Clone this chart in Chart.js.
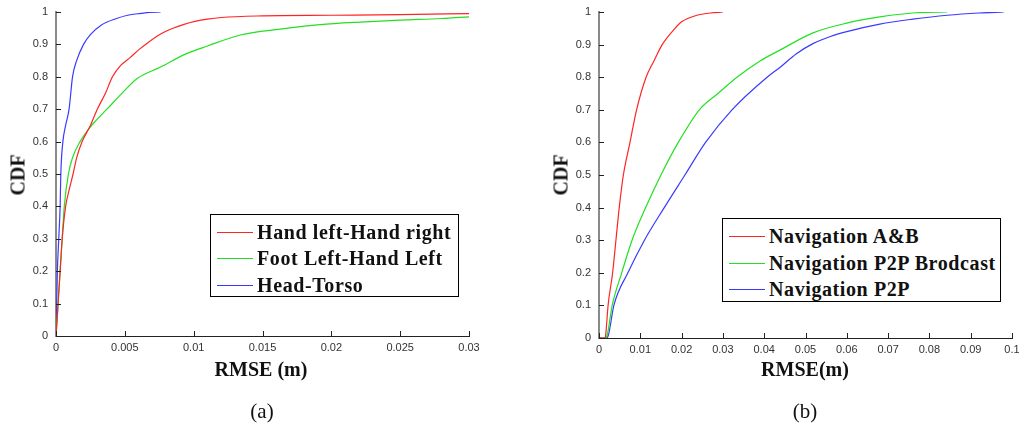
<!DOCTYPE html>
<html>
<head>
<meta charset="utf-8">
<script src="https://cdn.jsdelivr.net/npm/chart.js@4.4.1/dist/chart.umd.min.js"></script>
<style>
  body { margin: 0; background: #fff; width: 1019px; height: 428px; position: relative; overflow: hidden; }
  .box { position: absolute; }
  .ttl { position: absolute; font-family: "Liberation Serif", serif; font-weight: bold; font-size: 20px; color: #111; white-space: nowrap; transform: translate(-50%, -50%); }
  .ttl.rot { transform: translate(-50%, -50%) rotate(-90deg); }
  .cap { position: absolute; font-family: "Liberation Serif", serif; font-size: 21px; color: #111; transform: translate(-50%, -50%); }
  .legend { position: absolute; border: 1px solid #000; background: #fff; box-sizing: border-box; }
  .legend .row { position: absolute; left: 0; height: 26px; font-family: "Liberation Serif", serif; font-weight: bold; font-size: 20px; letter-spacing: 0.6px; color: #111; white-space: nowrap; line-height: 26px; }
  .legend .sw { position: absolute; left: 6px; top: 13px; width: 36px; height: 1.4px; }
  .legend .tx { position: absolute; left: 46px; top: 0; }
</style>
</head>
<body>
<div class="box" style="left:0;top:0;width:490px;height:370px"><canvas id="chartA"></canvas></div>
<div class="box" style="left:530px;top:0;width:489px;height:370px"><canvas id="chartB"></canvas></div>

<div class="ttl rot" style="left:18px;top:175px">CDF</div>
<div class="ttl" style="left:261px;top:369px">RMSE (m)</div>
<div class="cap" style="left:262px;top:411px">(a)</div>

<div class="ttl rot" style="left:561px;top:175px">CDF</div>
<div class="ttl" style="left:805px;top:369px">RMSE(m)</div>
<div class="cap" style="left:805px;top:411px">(b)</div>

<div id="legA" class="legend" style="left:210px;top:214px;width:249px;height:83px"></div>
<div id="legB" class="legend" style="left:722px;top:218px;width:279px;height:84px"></div>

<script>
// ---- panel (a) ----
const namesA = ['Hand left-Hand right', 'Foot Left-Hand Left', 'Head-Torso'];
const colorsA = ['#ff2424', '#22e022', '#3a3aff'];

const handLR_x = [0, 0.00008, 0.00015, 0.0003, 0.00045, 0.0007, 0.00095, 0.00124, 0.0015, 0.0019, 0.0025, 0.003, 0.0036, 0.0041, 0.0047, 0.0054, 0.006, 0.0066, 0.0076, 0.0085, 0.0093, 0.0101, 0.011, 0.012, 0.015, 0.02, 0.025, 0.03];
const handLR_y = [0, 0.05, 0.1, 0.2, 0.3, 0.4, 0.45, 0.5, 0.55, 0.6, 0.65, 0.7, 0.75, 0.8, 0.835, 0.86, 0.883, 0.903, 0.932, 0.95, 0.962, 0.971, 0.978, 0.983, 0.988, 0.99, 0.992, 0.995];

const footLH_x = [0, 0.00008, 0.00015, 0.0003, 0.00045, 0.0006, 0.0009, 0.0012, 0.00175, 0.0023, 0.0029, 0.0037, 0.0047, 0.0059, 0.0076, 0.0094, 0.011, 0.0134, 0.0163, 0.0192, 0.0221, 0.025, 0.028, 0.03];
const footLH_y = [0, 0.05, 0.1, 0.2, 0.3, 0.4, 0.5, 0.55, 0.6, 0.635, 0.665, 0.7, 0.745, 0.795, 0.83, 0.87, 0.895, 0.929, 0.947, 0.961, 0.969, 0.975, 0.98, 0.985];

const headT_x = [0, 0.00003, 0.00005, 0.0001, 0.0002, 0.0003, 0.00035, 0.0005, 0.0007, 0.00095, 0.0012, 0.0015, 0.002, 0.0025, 0.0033, 0.0044, 0.0052, 0.0062, 0.0068, 0.0076];
const headT_y = [0, 0.05, 0.1, 0.2, 0.3, 0.4, 0.5, 0.6, 0.65, 0.7, 0.8, 0.85, 0.9, 0.93, 0.96, 0.98, 0.99, 0.996, 0.999, 1.0];

const xTickValsA = [0, 0.005, 0.01, 0.015, 0.02, 0.025, 0.03];
const xTickLabelsA = ['0', '0.005', '0.01', '0.015', '0.02', '0.025', '0.03'];

// ---- panel (b) ----
const namesB = ['Navigation A&B', 'Navigation P2P Brodcast', 'Navigation P2P'];
const colorsB = ['#ff2424', '#22e022', '#3a3aff'];

const navAB_x = [0, 0.0015, 0.0017, 0.0022, 0.0033, 0.0041, 0.0049, 0.0059, 0.0075, 0.0091, 0.0114, 0.0133, 0.0153, 0.0184, 0.020, 0.0237, 0.027, 0.030];
const navAB_y = [0, 0, 0.02, 0.1, 0.2, 0.3, 0.4, 0.5, 0.6, 0.7, 0.8, 0.85, 0.9, 0.95, 0.97, 0.99, 0.997, 1.0];

const navBc_x = [0, 0.0015, 0.002, 0.0032, 0.0055, 0.008, 0.0113, 0.015, 0.0192, 0.0243, 0.0288, 0.0334, 0.039, 0.0438, 0.0518, 0.060, 0.068, 0.076, 0.0843];
const navBc_y = [0, 0, 0.01, 0.1, 0.2, 0.3, 0.4, 0.5, 0.6, 0.7, 0.75, 0.8, 0.85, 0.883, 0.936, 0.966, 0.985, 0.997, 1.0];

const navP2P_x = [0, 0.0018, 0.0023, 0.0036, 0.007, 0.011, 0.0158, 0.0208, 0.0258, 0.0322, 0.0407, 0.0438, 0.0478, 0.0518, 0.056, 0.060, 0.068, 0.076, 0.0843, 0.092, 0.098];
const navP2P_y = [0, 0, 0.01, 0.1, 0.2, 0.3, 0.4, 0.5, 0.6, 0.7, 0.8, 0.83, 0.872, 0.903, 0.925, 0.94, 0.963, 0.978, 0.99, 0.997, 1.0];

const xTickValsB = [0, 0.01, 0.02, 0.03, 0.04, 0.05, 0.06, 0.07, 0.08, 0.09, 0.1];
const xTickLabelsB = ['0', '0.01', '0.02', '0.03', '0.04', '0.05', '0.06', '0.07', '0.08', '0.09', '0.1'];

const yTickVals = [0, 0.1, 0.2, 0.3, 0.4, 0.5, 0.6, 0.7, 0.8, 0.9, 1];
const yTickLabels = ['0', '0.1', '0.2', '0.3', '0.4', '0.5', '0.6', '0.7', '0.8', '0.9', '1'];

function pts(xs, ys) { return xs.map((x, i) => ({ x: x, y: ys[i] })); }

// small tick marks pointing into the plot
const innerTicks = {
  id: 'innerTicks',
  afterDraw(chart) {
    const ctx = chart.ctx, a = chart.chartArea;
    ctx.save();
    ctx.strokeStyle = '#222';
    ctx.lineWidth = 1;
    ctx.beginPath();
    chart.scales.x.ticks.forEach(t => {
      const px = Math.round(chart.scales.x.getPixelForValue(t.value)) + 0.5;
      ctx.moveTo(px, a.bottom); ctx.lineTo(px, a.bottom - 5);
    });
    chart.scales.y.ticks.forEach(t => {
      const py = Math.round(chart.scales.y.getPixelForValue(t.value)) + 0.5;
      ctx.moveTo(a.left, py); ctx.lineTo(a.left + 5, py);
    });
    ctx.stroke();
    ctx.restore();
  }
};

function makeChart(id, series, xmax, xVals, xLabels, yWidth, xHeight, padRight) {
  new Chart(document.getElementById(id), {
    type: 'scatter',
    data: {
      datasets: series.map(s => ({
        label: s.name,
        data: pts(s.x, s.y),
        showLine: true,
        borderColor: s.color,
        backgroundColor: s.color,
        borderWidth: 1.2,
        pointRadius: 0,
        cubicInterpolationMode: 'monotone'
      }))
    },
    options: {
      responsive: true,
      maintainAspectRatio: false,
      animation: false,
      layout: { padding: { top: 12, right: padRight, left: 0, bottom: 0 } },
      plugins: { legend: { display: false }, tooltip: { enabled: false } },
      scales: {
        x: {
          type: 'linear', min: 0, max: xmax,
          afterBuildTicks: s => { s.ticks = xVals.map(v => ({ value: v })); },
          afterFit: s => { s.height = xHeight; s.paddingLeft = 0; s.paddingRight = 0; },
          grid: { display: true, drawOnChartArea: false, drawTicks: false },
          border: { display: true, color: '#222', width: 1 },
          ticks: {
            padding: 5, color: '#333', maxRotation: 0, autoSkip: false,
            font: { family: 'Liberation Sans', size: 11 },
            callback: (v, i) => xLabels[i]
          }
        },
        y: {
          type: 'linear', min: 0, max: 1,
          afterBuildTicks: s => { s.ticks = yTickVals.map(v => ({ value: v })); },
          afterFit: s => { s.width = yWidth; s.paddingTop = 0; s.paddingBottom = 0; },
          grid: { display: true, drawOnChartArea: false, drawTicks: false },
          border: { display: true, color: '#8a8a8a', width: 2 },
          ticks: {
            padding: 8, color: '#333', autoSkip: false,
            font: { family: 'Liberation Sans', size: 11 },
            callback: (v, i) => yTickLabels[i]
          }
        }
      }
    },
    plugins: [innerTicks]
  });
}

const seriesA = [
  { name: namesA[0], color: colorsA[0], x: handLR_x, y: handLR_y },
  { name: namesA[1], color: colorsA[1], x: footLH_x, y: footLH_y },
  { name: namesA[2], color: colorsA[2], x: headT_x, y: headT_y }
];
const seriesB = [
  { name: namesB[0], color: colorsB[0], x: navAB_x, y: navAB_y },
  { name: namesB[1], color: colorsB[1], x: navBc_x, y: navBc_y },
  { name: namesB[2], color: colorsB[2], x: navP2P_x, y: navP2P_y }
];

makeChart('chartA', seriesA, 0.03, xTickValsA, xTickLabelsA, 56, 34, 21);
makeChart('chartB', seriesB, 0.1, xTickValsB, xTickLabelsB, 69, 32, 7);

function fillLegend(id, names, colors, rowTops) {
  const el = document.getElementById(id);
  names.forEach((n, i) => {
    const row = document.createElement('div');
    row.className = 'row';
    row.style.top = rowTops[i] + 'px';
    const sw = document.createElement('div');
    sw.className = 'sw';
    sw.style.background = colors[i];
    const tx = document.createElement('div');
    tx.className = 'tx';
    tx.textContent = n;
    row.appendChild(sw); row.appendChild(tx);
    el.appendChild(row);
  });
}
fillLegend('legA', namesA, colorsA, [4, 30, 57]);
fillLegend('legB', namesB, colorsB, [4, 31, 57]);
</script>
</body>
</html>
